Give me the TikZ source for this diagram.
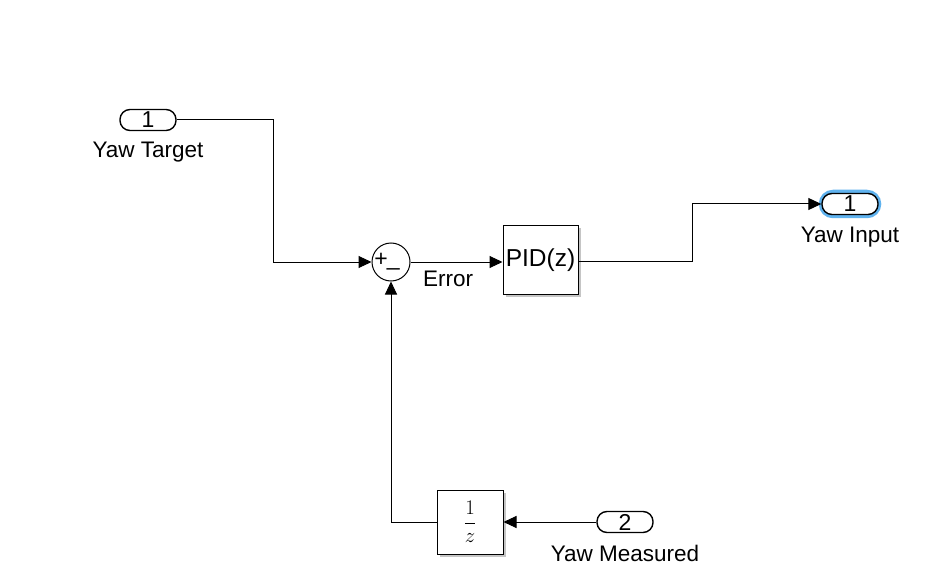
\documentclass[tikz,border=0pt]{standalone}
\usepackage{fontspec}
\setmainfont{Liberation Sans}
\usetikzlibrary{arrows.meta,shadows}
\definecolor{hilite}{RGB}{95,178,238}
\begin{document}
\begin{tikzpicture}[x=1pt,y=-1pt,
  wire/.style={line width=1pt},
  sig/.style={wire,-{Triangle[length=13pt,width=12pt]}},
  port/.style={draw,line width=1.4pt,rounded corners=10pt,minimum width=56pt,minimum height=21pt,inner sep=0pt,font=\fontsize{23}{23}\selectfont,fill=white},
  blk/.style={draw,line width=1pt,fill=white,inner sep=0pt,drop shadow={shadow xshift=2.5pt,shadow yshift=-2.5pt,opacity=0.45,fill=gray}},
  lbl/.style={font=\fontsize{22.5}{22.5}\selectfont,inner sep=0pt}]
\useasboundingbox (0,0) rectangle (952,577);
\fill[white] (0,0) rectangle (952,577);
% ports
\node[port] (in1) at (148,120) {1};
\node[lbl] (in1l) at (148,152) {Yaw Target};
\node[port] (in2) at (625,522) {2};
\node[lbl] (in2l) at (625,553) {Yaw Measured};
\draw[line width=4.5pt,color=hilite,rounded corners=12pt] (821,192) rectangle (879,216);
\node[port] (out1) at (850,204) {1};
\node[lbl] (out1l) at (850,237) {Yaw Input};
% sum
\node[draw,circle,line width=1pt,minimum size=38pt,inner sep=0pt,fill=white] (sum) at (391,262) {};
\node[font=\fontsize{23}{23}\selectfont,inner sep=0pt] (signs) at (387,262) {+\kern-1pt\raisebox{1pt}{\_}};
% PID
\node[blk,minimum width=75pt,minimum height=68pt] (pid) at (540.5,260) {\fontsize{24.5}{24.5}\selectfont PID(z)};
\node[lbl] (err) at (448,279) {Error};
% delay
\node[blk,minimum width=66pt,minimum height=64pt] (dly) at (470,522) {\fontsize{21}{21}\selectfont$\displaystyle\frac{1}{z}$};
% connectors
\coordinate (c1) at (273,120);
\coordinate (c2) at (273,262);
\draw[sig] (in1.east) -- (c1) -- (c2) -- (sum.west);
\draw[sig] (sum.east) -- (pid.west |- sum.east);
\coordinate (c3) at (692,261);
\coordinate (c4) at (692,204);
\draw[sig] (pid.east |- c3) -- (c3) -- (c4) -- (out1.west);
\draw[sig] (in2.west) -- (dly.east);
\coordinate (c5) at (391,522);
\draw[sig] (dly.west) -- (c5) -- (sum.south);
\end{tikzpicture}
\end{document}
